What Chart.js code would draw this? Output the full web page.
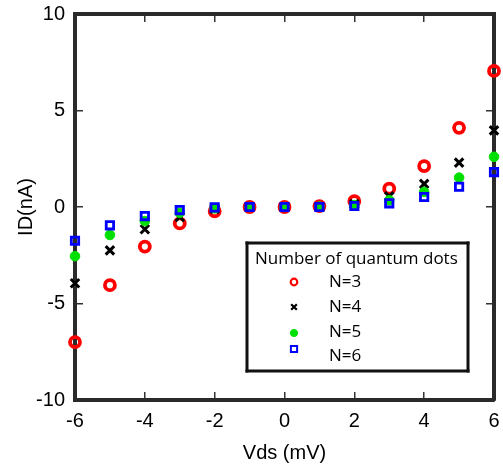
<!DOCTYPE html>
<html><head><meta charset="utf-8">
<script src="https://cdn.jsdelivr.net/npm/chart.js@4/dist/chart.umd.min.js"></script>
<style>html,body{margin:0;padding:0;background:#fff}#wrap{width:503px;height:468px}</style>
</head><body><div id="wrap"><canvas id="c" width="503" height="468"></canvas></div>
<script>
const vds = [-6,-5,-4,-3,-2,-1,0,1,2,3,4,5,6];
const n3 = [-7.0,-4.05,-2.05,-0.85,-0.22,0,0,0.05,0.3,0.95,2.12,4.1,7.05];
const n4 = [-3.95,-2.25,-1.15,-0.52,-0.1,0,0,0,0.15,0.55,1.2,2.3,3.97];
const n5 = [-2.55,-1.45,-0.73,-0.3,-0.07,0,0,0.02,0.1,0.35,0.78,1.52,2.6];
const n6 = [-1.75,-0.95,-0.47,-0.16,-0.02,0,0,0,0.05,0.19,0.52,1.05,1.81];
const seriesLabels = ['N=3','N=4','N=5','N=6'];
const legendTitle = 'Number of quantum dots';
const xTitle = 'Vds (mV)';
const yTitle = 'ID(nA)';

const pts = arr => vds.map((x,i)=>({x:x,y:arr[i]}));

const styles = [
  {pointStyle:'circle', pointRadius:5, pointBorderWidth:3.8, pointBorderColor:'#ff0000', pointBackgroundColor:'rgba(0,0,0,0)', order:3, lg:{r:3.3,w:2.2}},
  {pointStyle:'crossRot', pointRadius:6, pointBorderWidth:3, pointBorderColor:'#000000', pointBackgroundColor:'#000', order:2, lg:{r:4,w:2.2}},
  {pointStyle:'circle', pointRadius:4.8, pointBorderWidth:1, pointBorderColor:'#00e000', pointBackgroundColor:'#00e000', order:1, lg:{r:3.6,w:1}},
  {pointStyle:'rect', pointRadius:5.2, pointBorderWidth:2.8, pointBorderColor:'#0000ff', pointBackgroundColor:'rgba(0,0,0,0)', order:0, lg:{r:4.4,w:2}}
];
const series = [n3,n4,n5,n6];
const datasets = series.map((s,i)=>Object.assign({label:seriesLabels[i], data:pts(s), showLine:false, clip:false, xAxisID:'x', yAxisID:'y'}, styles[i]));

function drawLegend(chart){
  const ctx = chart.ctx;
  ctx.save();
  const bx=247, by=243, bw=221, bh=128;
  ctx.fillStyle='#fff';
  ctx.fillRect(bx,by,bw,bh);
  ctx.fillStyle='#111';
  ctx.fillRect(bx-1.5,by-1.5,bw+3,3);
  ctx.fillRect(bx-1.5,by+bh-1.5,bw+3,3);
  ctx.fillRect(bx-1.5,by-1.5,3,bh+3);
  ctx.fillRect(bx+bw-1.5,by-1.5,3,bh+3);
  ctx.fillStyle='#000';
  ctx.font='17px "Open Sans"';
  ctx.textBaseline='middle';
  ctx.textAlign='left';
  ctx.fillText(legendTitle, bx+8, by+16);
  const rowY=[282,307,332,356];
  const markY=[282,307,333,349];
  chart.data.datasets.forEach((d,i)=>{
    ctx.fillStyle='#000';
    ctx.fillText(d.label, 329, rowY[i]);
    ctx.strokeStyle=d.pointBorderColor;
    ctx.fillStyle=d.pointBackgroundColor;
    ctx.lineWidth=d.lg.w;
    Chart.helpers.drawPoint(ctx,{pointStyle:d.pointStyle, radius:d.lg.r, borderWidth:d.lg.w, rotation:0},294,markY[i]);
  });
  ctx.restore();
}

const legendBox = { id:'legendBox', afterDraw(chart){ drawLegend(chart); } };

const tickFont = {family:'"Liberation Sans", Arial, sans-serif', size:20};
const frameBorder = {display:true, width:4, color:'#2a2a2a'};
const innerTicks = {display:true, drawOnChartArea:false, drawTicks:true, tickLength:-8, color:'#333', lineWidth:1.5};

new Chart(document.getElementById('c'), {
  type:'scatter',
  data:{datasets:datasets},
  options:{
    responsive:false, animation:false, maintainAspectRatio:false,
    layout:{padding:0},
    plugins:{legend:{display:false}, tooltip:{enabled:false}},
    scales:{
      x:{type:'linear', position:'bottom', min:-6, max:6,
        ticks:{stepSize:2, font:tickFont, color:'#000', padding:17, maxRotation:0},
        grid:innerTicks, border:frameBorder,
        title:{display:true, text:xTitle, font:tickFont, color:'#000', padding:{top:3,bottom:3}},
        afterFit(s){ s.height = 68; s.paddingRight = 3; s.paddingLeft = 0; }
      },
      y:{type:'linear', position:'left', min:-10, max:10,
        ticks:{stepSize:5, font:tickFont, color:'#000', padding:18},
        grid:innerTicks, border:frameBorder,
        title:{display:true, text:yTitle, font:tickFont, color:'#000', padding:{top:14,bottom:14}},
        afterFit(s){ s.width = 75; s.paddingTop = 14; s.paddingBottom = 0; }
      },
      x2:{type:'linear', position:'top', min:-6, max:6,
        ticks:{stepSize:2, display:false},
        grid:innerTicks, border:frameBorder,
        afterFit(s){ s.height = 14; }
      },
      y2:{type:'linear', position:'right', min:-10, max:10,
        ticks:{stepSize:5, display:false},
        grid:innerTicks, border:frameBorder,
        afterFit(s){ s.width = 6; }
      }
    }
  },
  plugins:[legendBox]
});
</script>
</body></html>
